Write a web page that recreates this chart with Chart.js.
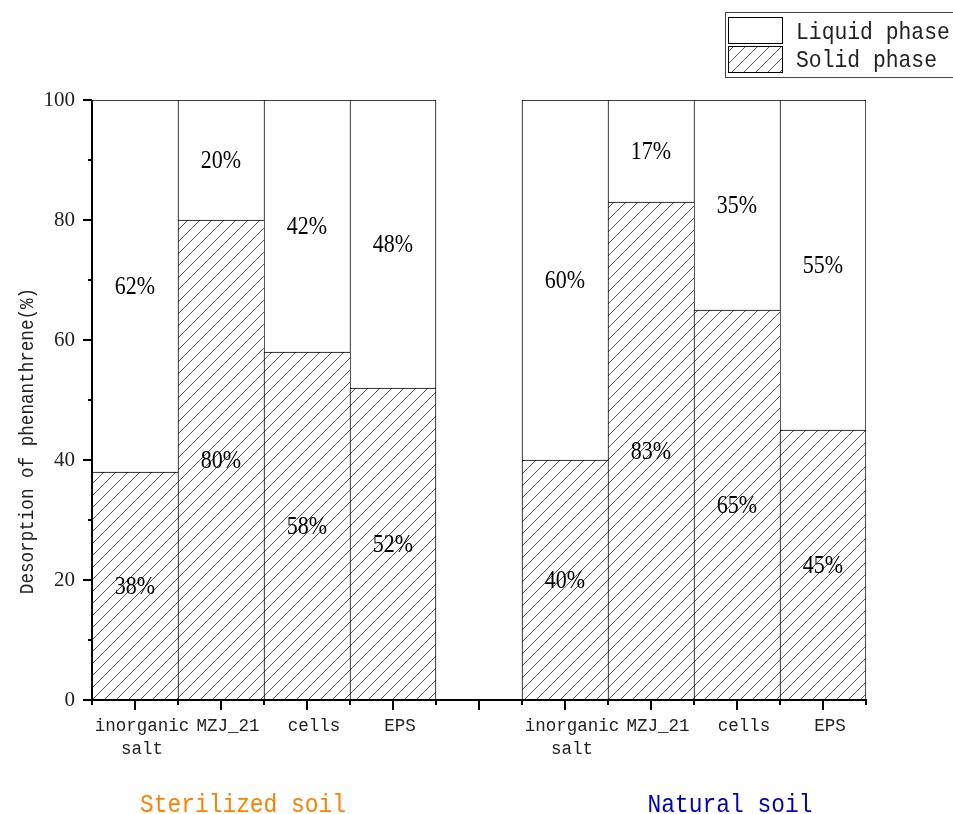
<!DOCTYPE html>
<html>
<head>
<meta charset="utf-8">
<script src="https://cdn.jsdelivr.net/npm/chart.js@4"></script>
<style>
  html, body { margin: 0; padding: 0; background: #fff; }
  #wrap { width: 953px; height: 814px; }
</style>
</head>
<body>
<div id="wrap"><canvas id="c" width="953" height="814"></canvas></div>
<script>
// Categories: two groups of four treatments, separated by an empty slot
const categories = [
  ['inorganic', 'salt'], 'MZJ_21', 'cells', 'EPS',
  '',
  ['inorganic', 'salt'], 'MZJ_21', 'cells', 'EPS'
];
// Share of phenanthrene (%) in each phase
const solidPhase  = [38, 80, 58, 52, null, 40, 83, 65, 45];
const liquidPhase = [62, 20, 42, 48, null, 60, 17, 35, 55];
const seriesNames = ['Liquid phase', 'Solid phase'];
const yTicks = [0, 20, 40, 60, 80, 100];
const groupNames = ['Sterilized soil', 'Natural soil'];
const groupColors = ['#FF8000', '#0000C0'];

// Diagonal hatch used for the solid phase
function makeHatch() {
  const s = 12;
  const pc = document.createElement('canvas');
  pc.width = s; pc.height = s;
  const g = pc.getContext('2d');
  g.fillStyle = '#fff';
  g.fillRect(0, 0, s, s);
  g.strokeStyle = '#555';
  g.lineWidth = 1;
  g.beginPath();
  g.moveTo(-1, s + 1); g.lineTo(s + 1, -1);
  g.moveTo(-1, 1); g.lineTo(1, -1);
  g.moveTo(s - 1, s + 1); g.lineTo(s + 1, s - 1);
  g.stroke();
  return document.getElementById('c').getContext('2d').createPattern(pc, 'repeat');
}
const hatch = makeHatch();

// text in a slightly narrowed monospace face
function drawCondensed(ctx, text, x, y, font, sx, align, color) {
  ctx.save();
  ctx.font = font;
  ctx.fillStyle = color;
  ctx.textAlign = align;
  ctx.textBaseline = 'alphabetic';
  ctx.translate(x, y);
  ctx.scale(sx, 1);
  ctx.fillText(text, 0, 0);
  ctx.restore();
}

function isLastInGroup(i) {
  return i === categories.length - 1 || categories[i + 1] === '';
}
const barBorder = (ctx) => ({ top: 1, left: 1, bottom: 0, right: isLastInGroup(ctx.dataIndex) ? 1 : 0 });

const decorations = {
  id: 'decorations',
  afterDraw(chart) {
    const ctx = chart.ctx;
    const xs = chart.scales.x, ys = chart.scales.y;
    const area = chart.chartArea;

    // axis lines on top of the bars, and tick marks
    ctx.save();
    ctx.strokeStyle = '#000';
    ctx.lineWidth = 2;
    ctx.beginPath();
    ctx.moveTo(area.left, area.top); ctx.lineTo(area.left, area.bottom);
    ctx.moveTo(area.left - 1, area.bottom); ctx.lineTo(area.right + 1, area.bottom);
    const p0 = xs.getPixelForValue(0), p1 = xs.getPixelForValue(1);
    const half = (p1 - p0) / 2;
    for (let i = 0; i < categories.length; i++) {
      const c = Math.round(xs.getPixelForValue(i));
      ctx.moveTo(c, area.bottom); ctx.lineTo(c, area.bottom + 10);
    }
    for (let i = 0; i <= categories.length; i++) {
      const b = Math.round(p0 - half + i * 2 * half);
      ctx.moveTo(b, area.bottom - 1); ctx.lineTo(b, area.bottom + 5);
    }
    for (let v = 0; v <= 100; v += 10) {
      const py = Math.round(ys.getPixelForValue(v));
      const len = v % 20 === 0 ? 9 : 4;
      ctx.moveTo(area.left, py); ctx.lineTo(area.left - len, py);
    }
    ctx.stroke();
    ctx.restore();

    // value labels centred in each segment
    chart.data.datasets.forEach((ds, di) => {
      const meta = chart.getDatasetMeta(di);
      meta.data.forEach((bar, i) => {
        const v = ds.data[i];
        if (v == null) return;
        const p = bar.getProps(['x', 'y', 'base'], true);
        const cy = (p.y + p.base) / 2;
        ctx.save();
        ctx.font = '25px "Liberation Serif"';
        ctx.fillStyle = '#000';
        ctx.textAlign = 'center';
        ctx.textBaseline = 'middle';
        ctx.translate(p.x, cy + 1);
        ctx.scale(0.88, 1);
        ctx.fillText(v + '%', 0, 0);
        ctx.restore();
      });
    });

    // y axis title
    ctx.save();
    ctx.translate(33, 441);
    ctx.rotate(-Math.PI / 2);
    ctx.scale(0.88, 1);
    ctx.font = '20px "Liberation Mono"';
    ctx.fillStyle = '#222';
    ctx.textAlign = 'center';
    ctx.textBaseline = 'alphabetic';
    ctx.fillText('Desorption of phenanthrene(%)', 0, 0);
    ctx.restore();

    // group captions below the axis
    drawCondensed(ctx, groupNames[0], 243, 812, '26px "Liberation Mono"', 0.88, 'center', groupColors[0]);
    drawCondensed(ctx, groupNames[1], 730, 812, '26px "Liberation Mono"', 0.88, 'center', groupColors[1]);

    // legend box
    ctx.save();
    ctx.strokeStyle = '#444';
    ctx.lineWidth = 1;
    ctx.strokeRect(725.5, 12.5, 260, 65);
    ctx.fillStyle = '#fff';
    ctx.fillRect(728.5, 17.5, 54, 26);
    ctx.fillStyle = hatch;
    ctx.fillRect(728.5, 46.5, 54, 26);
    ctx.strokeStyle = '#000';
    ctx.strokeRect(728.5, 17.5, 54, 26);
    ctx.strokeRect(728.5, 46.5, 54, 26);
    ctx.restore();
    drawCondensed(ctx, seriesNames[0], 796, 39, '24px "Liberation Mono"', 0.89, 'left', '#222');
    drawCondensed(ctx, seriesNames[1], 796, 67, '24px "Liberation Mono"', 0.89, 'left', '#222');
  }
};

new Chart(document.getElementById('c'), {
  type: 'bar',
  data: {
    labels: categories,
    datasets: [
      {
        label: seriesNames[1],
        data: solidPhase,
        backgroundColor: hatch,
        borderColor: '#000',
        borderWidth: barBorder,
        borderSkipped: false,
        categoryPercentage: 1,
        barPercentage: 1
      },
      {
        label: seriesNames[0],
        data: liquidPhase,
        backgroundColor: '#fff',
        borderColor: '#000',
        borderWidth: barBorder,
        borderSkipped: false,
        categoryPercentage: 1,
        barPercentage: 1
      }
    ]
  },
  options: {
    responsive: false,
    animation: false,
    layout: { padding: { top: 100, right: 87, left: 0, bottom: 0 } },
    plugins: {
      legend: { display: false },
      tooltip: { enabled: false }
    },
    scales: {
      x: {
        stacked: true,
        grid: { display: false },
        border: { display: false },
        ticks: {
          autoSkip: false,
          maxRotation: 0,
          padding: 7,
          labelOffset: 7,
          color: '#222',
          font: { family: 'Liberation Mono', size: 17.5, lineHeight: 1.3 }
        },
        afterFit(scale) { scale.height = 114; }
      },
      y: {
        stacked: true,
        min: 0,
        max: 100,
        grid: { display: false },
        border: { display: false },
        afterBuildTicks(scale) { scale.ticks = yTicks.map(v => ({ value: v })); },
        ticks: {
          padding: 9,
          color: '#222',
          font: { family: 'Liberation Serif', size: 21 }
        },
        afterFit(scale) { scale.width = 92; }
      }
    }
  },
  plugins: [decorations]
});
</script>
</body>
</html>
